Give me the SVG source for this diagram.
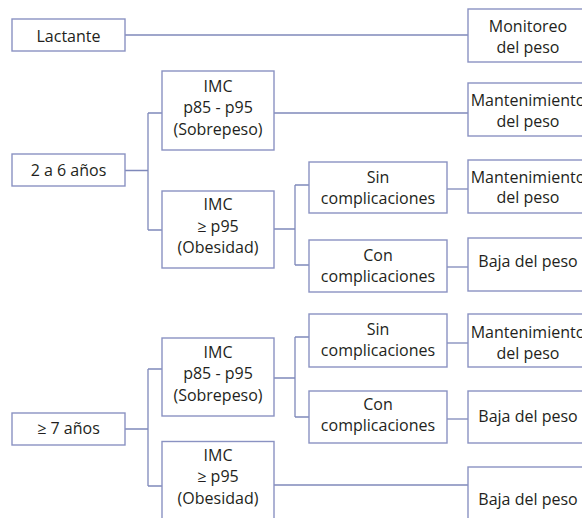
<svg xmlns="http://www.w3.org/2000/svg" width="582" height="518" viewBox="0 0 582 518">
<style>
.b{fill:#ffffff;stroke:#8a92c2;stroke-width:1.4}
.t{font-family:"Open Sans","DejaVu Sans",sans-serif;font-size:16px;fill:#231f20;text-anchor:middle}
.c{fill:none;stroke:#7f89ba;stroke-width:1.3}
</style>
<rect width="582" height="518" fill="#ffffff"/>
<g id="connectors">
<path class="c" d="M125,35H468"/>
<path class="c" d="M125,170.5H148M148,113V230M148,113H162M148,230H162"/>
<path class="c" d="M274,113H468"/>
<path class="c" d="M274,229H295M295,185V265M295,185H309M295,265H309"/>
<path class="c" d="M447,189H468"/>
<path class="c" d="M447,267H468"/>
<path class="c" d="M125,429H148M148,369V486M148,369H162M148,486H162"/>
<path class="c" d="M274,378H295M295,337V417M295,337H309M295,417H309"/>
<path class="c" d="M447,343H468"/>
<path class="c" d="M447,419H468"/>
<path class="c" d="M274,485H468"/>
</g>
<g id="lactante"><rect class="b" x="12" y="19" width="113" height="32"/><text class="t" x="68.5" y="41.5">Lactante</text></g>
<g id="monitoreo"><rect class="b" x="468" y="9" width="120" height="53"/><text class="t" x="528" y="32">Monitoreo</text><text class="t" x="528" y="52.5">del peso</text></g>
<g id="edad26"><rect class="b" x="12" y="154" width="113" height="32"/><text class="t" x="68.5" y="175.5">2 a 6 años</text></g>
<g id="imc-sob-26"><rect class="b" x="162" y="71" width="112" height="79"/><text class="t" x="218" y="91.5">IMC</text><text class="t" x="218" y="113">p85 - p95</text><text class="t" x="218" y="134.5">(Sobrepeso)</text></g>
<g id="mant1"><rect class="b" x="468" y="83" width="120" height="53"/><text class="t" x="528" y="106">Mantenimiento</text><text class="t" x="528" y="126.5">del peso</text></g>
<g id="imc-ob-26"><rect class="b" x="162" y="191" width="112" height="77"/><text class="t" x="218" y="210">IMC</text><text class="t" x="218" y="231.5">≥ p95</text><text class="t" x="218" y="253">(Obesidad)</text></g>
<g id="sin-26"><rect class="b" x="309" y="162" width="138" height="51"/><text class="t" x="378" y="182.5">Sin</text><text class="t" x="378" y="203.5">complicaciones</text></g>
<g id="mant2"><rect class="b" x="468" y="160" width="120" height="53"/><text class="t" x="528" y="182.5">Mantenimiento</text><text class="t" x="528" y="203">del peso</text></g>
<g id="con-26"><rect class="b" x="309" y="240" width="138" height="52"/><text class="t" x="378" y="260.5">Con</text><text class="t" x="378" y="281.5">complicaciones</text></g>
<g id="baja1"><rect class="b" x="468" y="238" width="120" height="53"/><text class="t" x="528" y="266.5">Baja del peso</text></g>
<g id="edad7"><rect class="b" x="12" y="413" width="113" height="32"/><text class="t" x="68.5" y="433.5">≥ 7 años</text></g>
<g id="imc-sob-7"><rect class="b" x="162" y="338" width="112" height="78"/><text class="t" x="218" y="357.5">IMC</text><text class="t" x="218" y="379">p85 - p95</text><text class="t" x="218" y="400.5">(Sobrepeso)</text></g>
<g id="sin-7"><rect class="b" x="309" y="314" width="138" height="53"/><text class="t" x="378" y="335">Sin</text><text class="t" x="378" y="356">complicaciones</text></g>
<g id="mant3"><rect class="b" x="468" y="314" width="120" height="53"/><text class="t" x="528" y="338">Mantenimiento</text><text class="t" x="528" y="359">del peso</text></g>
<g id="con-7"><rect class="b" x="309" y="391" width="138" height="52"/><text class="t" x="378" y="410">Con</text><text class="t" x="378" y="431">complicaciones</text></g>
<g id="baja2"><rect class="b" x="468" y="391" width="120" height="52"/><text class="t" x="528" y="421.5">Baja del peso</text></g>
<g id="imc-ob-7"><rect class="b" x="162" y="441.5" width="112" height="80"/><text class="t" x="218" y="461">IMC</text><text class="t" x="218" y="482">≥ p95</text><text class="t" x="218" y="503.5">(Obesidad)</text></g>
<g id="baja3"><rect class="b" x="468" y="467" width="120" height="60"/><text class="t" x="528" y="505">Baja del peso</text></g>
</svg>
